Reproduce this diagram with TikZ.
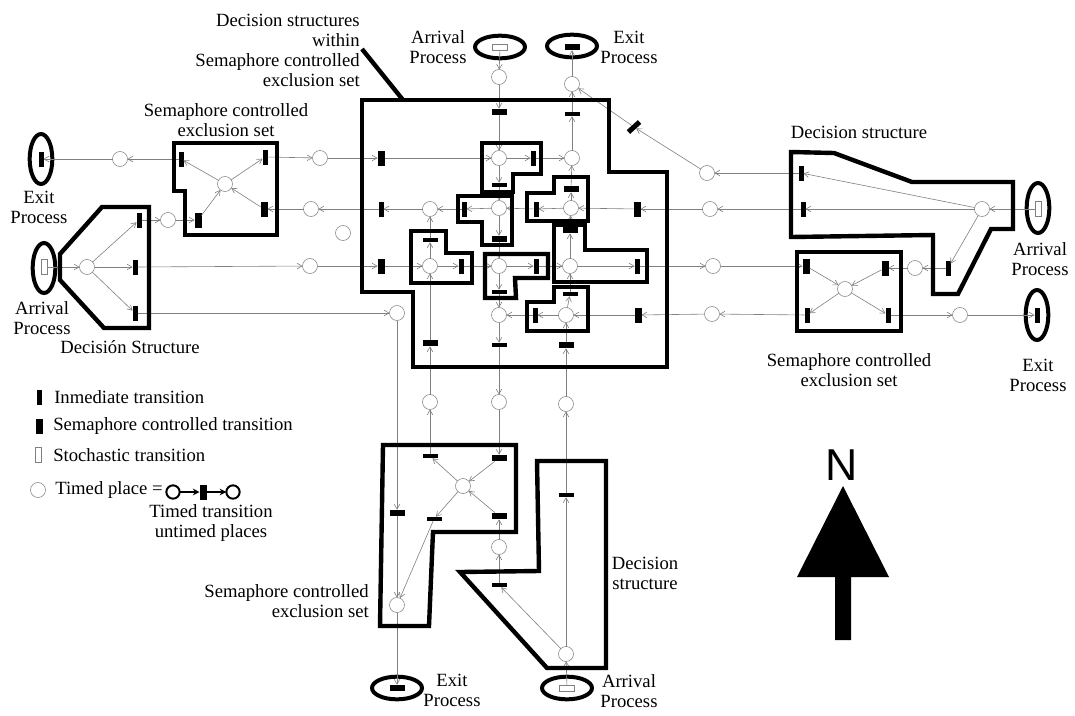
\documentclass[tikz,border=0pt]{standalone}
\usepackage{fontspec}
\setmainfont{Liberation Serif}
\newfontfamily\northfont{Liberation Sans}
\usetikzlibrary{arrows.meta,shapes.geometric}
\definecolor{connc}{gray}{0.5}
\tikzset{
  px/.style={x=0.75pt,y=-0.75pt},
  place/.style={circle,draw=connc,line width=0.4pt,fill=white,minimum size=11.25pt,inner sep=0pt,outer sep=0pt},
  vim/.style={rectangle,fill=black,minimum width=3.75pt,minimum height=11.25pt,inner sep=0pt,outer sep=0pt},
  vsem/.style={rectangle,fill=black,minimum width=5.25pt,minimum height=11.25pt,inner sep=0pt,outer sep=0pt},
  him/.style={rectangle,fill=black,minimum width=11.25pt,minimum height=3.4pt,inner sep=0pt,outer sep=0pt},
  hsem/.style={rectangle,fill=black,minimum width=11.25pt,minimum height=5pt,inner sep=0pt,outer sep=0pt},
  vsto/.style={rectangle,draw=connc,line width=0.4pt,fill=white,minimum width=4.5pt,minimum height=11.25pt,inner sep=0pt,outer sep=0pt},
  hsto/.style={rectangle,draw=connc,line width=0.4pt,fill=white,minimum width=11.25pt,minimum height=4.5pt,inner sep=0pt,outer sep=0pt},
  velli/.style={ellipse,draw=black,line width=3pt,minimum width=17pt,minimum height=37.5pt,inner sep=0pt,outer sep=0pt},
  helli/.style={ellipse,draw=black,line width=3pt,minimum width=37.5pt,minimum height=17pt,inner sep=0pt,outer sep=0pt},
  conn/.style={draw=connc,line width=0.45pt,-{Straight Barb[length=3.6pt,width=4.2pt]}},
  thickbox/.style={draw=black,line width=3.3pt,line join=miter},
  lab/.style={font=\fontsize{14}{15}\selectfont,align=center,inner sep=0pt,text=black},
  labr/.style={font=\fontsize{14}{15}\selectfont,align=right,inner sep=0pt,text=black},
  labl/.style={font=\fontsize{14}{15}\selectfont,anchor=west,inner sep=0pt,text=black},
  lgplace/.style={circle,draw=black,line width=1.5pt,fill=white,minimum size=10pt,inner sep=0pt,outer sep=0pt},
  lgconn/.style={draw=black,line width=1.2pt,-{Stealth[length=5pt,width=5pt]}}
}
\begin{document}
\begin{tikzpicture}[px]
\useasboundingbox (0,0) rectangle (1075,715);
\fill[white] (0,0) rectangle (1075,715);
% central places
\node[place] (c1) at (499,158) {};
\node[place] (c2) at (572,158) {};
\node[place] (c3) at (499,208) {};
\node[place] (c4) at (430,209) {};
\node[place] (c5) at (571,208) {};
\node[place] (c6) at (430,266) {};
\node[place] (c7) at (499,266) {};
\node[place] (c8) at (570,266) {};
\node[place] (c9) at (499,315) {};
\node[place] (c10) at (566,315) {};
\node[place] (c11) at (397,313) {};
\node[place] (pT1) at (499,77) {};
\node[place] (pT2) at (572,84) {};
% central transitions
\node[hsem] (t1) at (499,112) {};
\node[him] (t2) at (572,114) {};
\node[vsem] (t3) at (381,158) {};
\node[vim] (t4) at (533,158) {};
\node[him] (t5) at (499,185) {};
\node[vim] (t6) at (464,209) {};
\node[vim] (t7) at (381,209) {};
\node[hsem] (t8) at (499,239) {};
\node[hsem] (t9) at (571,189) {};
\node[vim] (t10) at (536,209) {};
\node[vsem] (t11) at (637,209) {};
\node[him] (t12) at (430,240) {};
\node[vsem] (t13) at (381,266) {};
\node[vim] (t14) at (461,266) {};
\node[vim] (t15) at (536,266) {};
\node[hsem] (t16) at (570,230) {};
\node[vim] (t17) at (637,266) {};
\node[him] (t18) at (499,292) {};
\node[him] (t19) at (570,294) {};
\node[vim] (t20) at (535,315) {};
\node[vsem] (t21) at (638,315) {};
\node[hsem] (t22) at (430,343) {};
\node[him] (t23) at (499,345) {};
\node[hsem] (t24) at (566,345) {};
\node[vim,rotate=-48] (t25) at (634,127) {};
% left
\node[velli] (eL) at (41,159) {};
\node[vim] (xL) at (41,159) {};
\node[place] (pL1) at (120,159) {};
\node[vim] (tL1) at (181,159) {};
\node[vim] (tL2) at (265,157) {};
\node[vsem] (tL3) at (264,209) {};
\node[vsem] (tL4) at (198,220) {};
\node[place] (pLs) at (225,184) {};
\node[place] (pL2) at (320,158) {};
\node[place] (pL3) at (311,209) {};
\node[place] (pL4) at (343,233) {};
\node[place] (pL5) at (310,266) {};
\node[place] (pL6) at (168,220) {};
\node[vim] (tL5) at (139,220) {};
\node[vim] (tL6) at (135,267) {};
\node[vim] (tL7) at (135,313) {};
\node[place] (pLd) at (87,267) {};
\node[velli] (aL) at (44,268) {};
\node[vsto] (sL) at (44,267) {};
% right
\node[vim] (tR1) at (801,173) {};
\node[vim] (tR2) at (803,209) {};
\node[vim] (tR3) at (948,268) {};
\node[place] (pRd) at (982,209) {};
\node[velli] (aR) at (1038,208) {};
\node[vsto] (sR) at (1038,209) {};
\node[place] (pR1) at (707,173) {};
\node[place] (pR2) at (710,209) {};
\node[place] (pR3) at (713,266) {};
\node[place] (pR4) at (712,314) {};
\node[place] (pR5) at (915,268) {};
\node[place] (pR6) at (960,315) {};
\node[place] (pRs) at (845,289) {};
\node[vsem] (tR4) at (806,266) {};
\node[vsem] (tR5) at (885,268) {};
\node[vim] (tR6) at (807,315) {};
\node[vim] (tR7) at (888,315) {};
\node[velli] (eR) at (1037,315) {};
\node[vim] (xR) at (1037,315) {};
% bottom
\node[place] (pB1) at (430,402) {};
\node[place] (pB2) at (499,402) {};
\node[place] (pB3) at (566,404) {};
\node[him] (tB1) at (430,456) {};
\node[hsem] (tB2) at (499,458) {};
\node[hsem] (tB3) at (397,513) {};
\node[him] (tB4) at (434,519) {};
\node[hsem] (tB5) at (499,516) {};
\node[place] (pBs) at (463,486) {};
\node[place] (pB4) at (397,605) {};
\node[place] (pB5) at (499,547) {};
\node[him] (tB6) at (499,585) {};
\node[him] (tB7) at (566,495) {};
\node[place] (pB6) at (566,654) {};
\node[helli] (eB) at (397,688) {};
\node[hsem] (xB) at (397,688) {};
\node[helli] (aB) at (567,688) {};
\node[hsto] (sB) at (567,688) {};
% top
\node[helli] (aT) at (500,47) {};
\node[hsto] (sT) at (500,47) {};
\node[helli] (eT) at (572,46) {};
\node[hsem] (xT) at (572,47) {};
% connectors
\foreach \a/\b in {sT/pT1,pT1/t1,t1/c1,c1/t4,t4/c2,c2/t2,t2/pT2,pT2/xT,c1/t5,t5/c3,c3/t6,t6/c4,c4/t7,t7/pL3,pL3/tL3,tL3/pLs,
  c3/t8,t8/c7,c7/t18,t18/c9,c9/t23,t23/pB2,pB2/tB2,tB2/pBs,t11/c5,c5/t10,t10/c3,c5/t9,t9/c2,pR2/t11,tR2/pR2,pRd/tR2,pRd/tR1,pRd/tR3,sR/pRd,
  tR1/pR1,pR1/t25,t25/pT2,tR3/pR5,pR5/tR5,tR5/pRs,c8/t17,t17/pR3,pR3/tR4,tR4/pRs,pRs/tR6,tR6/pR4,pR4/t21,t21/c10,c10/t20,t20/c9,pRs/tR7,tR7/pR6,pR6/xR,
  c10/t19,t19/c8,c8/t16,t16/c5,c7/t15,t15/c8,c6/t14,t14/c7,t13/c6,pL5/t13,tL6/pL5,pLd/tL6,pLd/tL5,pLd/tL7,sL/pLd,tL5/pL6,pL6/tL4,tL4/pLs,pLs/tL1,pLs/tL2,
  tL1/pL1,pL1/xL,tL2/pL2,pL2/t3,t3/c1,c6/t12,t12/c4,t22/c6,pB1/t22,tB1/pB1,pBs/tB1,tB5/pBs,pB5/tB5,tB6/pB5,pB6/tB6,pB6/tB7,tB7/pB3,pB3/t24,t24/c10,sB/pB6,
  pBs/tB4,tB4/pB4,tL7/c11,c11/tB3,tB3/pB4,pB4/xB}
  {\path[conn] (\a) -- (\b);}
% thick outlines
\draw[thickbox] (362,100) -- (609,100) -- (609,172) -- (667,172) -- (667,367) -- (413,367) -- (413,292) -- (362,292) -- cycle;
\draw[thickbox] (362,49) -- (403,100);
\draw[thickbox] (482,143) -- (541,143) -- (541,174) -- (513,174) -- (513,192) -- (482,192) -- cycle;
\draw[thickbox] (458,196) -- (512,196) -- (512,245) -- (482,245) -- (482,222) -- (458,222) -- cycle;
\draw[thickbox] (554,177) -- (588,177) -- (588,221) -- (527,221) -- (527,193) -- (554,193) -- cycle;
\draw[thickbox] (411,231) -- (446,231) -- (446,253) -- (472,253) -- (472,283) -- (411,283) -- cycle;
\draw[thickbox] (485,254) -- (548,254) -- (548,278) -- (515,278) -- (516,298) -- (485,298) -- cycle;
\draw[thickbox] (554,225) -- (585,225) -- (585,250) -- (647,250) -- (647,282) -- (554,282) -- cycle;
\draw[thickbox] (554,287) -- (588,287) -- (588,331) -- (527,331) -- (527,302) -- (554,302) -- cycle;
\draw[thickbox] (174,143) -- (277,143) -- (277,235) -- (185,235) -- (185,191) -- (174,191) -- cycle;
\draw[thickbox] (102,207) -- (149,207) -- (149,328) -- (104,328) -- (60,280) -- (60,254) -- cycle;
\draw[thickbox] (791,152) -- (834,153) -- (912,182) -- (1013,182) -- (1013,229) -- (991,229) -- (958,294) -- (933,294) -- (933,235) -- (791,237) -- cycle;
\draw[thickbox] (797,252) -- (901,252) -- (901,331) -- (797,331) -- cycle;
\draw[thickbox] (383,445) -- (516,445) -- (516,532) -- (433,532) -- (429,626) -- (380,626) -- cycle;
\draw[thickbox] (537,461) -- (606,461) -- (606,668) -- (547,668) -- (460,572) -- (539,571) -- cycle;
% labels
\node[labr,anchor=east] (l1) at (360,50) {Decision structures\\within\\Semaphore controlled\\exclusion set};
\node[lab] (l2) at (438,47) {Arrival\\Process};
\node[lab] (l3) at (629,47) {Exit\\Process};
\node[lab] (l4) at (226,120) {Semaphore controlled\\exclusion set};
\node[lab] (l5) at (39,207) {Exit\\Process};
\node[lab] (l6) at (42,318) {Arrival\\Process};
\node[lab] (l7) at (130,347) {Decisión Structure};
\node[lab] (l8) at (859,132) {Decision structure};
\node[lab] (l9) at (1040,259) {Arrival\\Process};
\node[lab] (l10) at (849,370) {Semaphore controlled\\exclusion set};
\node[lab] (l11) at (1038,375) {Exit\\Process};
\node[labr,anchor=east] (l12) at (369,601) {Semaphore controlled\\exclusion set};
\node[lab] (l13) at (645,573) {Decision\\structure};
\node[lab] (l14) at (452,690) {Exit\\Process};
\node[lab] (l15) at (629,691) {Arrival\\Process};
% legend
\node[vim] (lgI) at (39,397) {};
\node[labl] (lgIt) at (54,397) {Inmediate transition};
\node[vsem] (lgS) at (39,426) {};
\node[labl] (lgSt) at (53,426) {Semaphore controlled transition};
\node[vsto] (lgR) at (38,455) {};
\node[labl] (lgRt) at (53,455) {Stochastic transition};
\node[place] (lgP) at (38,490) {};
\node[labl] (lgPt) at (55,490) {Timed place =};
\node[lgplace] (lgA) at (173,492) {};
\node[vsem] (lgT) at (203,492) {};
\node[lgplace] (lgB) at (233,492) {};
\path[lgconn] (lgA) -- (lgT);
\path[lgconn] (lgT) -- (lgB);
\node[lab] (lgTt) at (211,523) {Timed transition\\untimed places};
% north arrow
\fill[black] (843,486) -- (889,577) -- (851,577) -- (851,640) -- (835,640) -- (835,577) -- (797,577) -- cycle;
\node[font=\fontsize{33.5}{36}\selectfont\northfont,inner sep=0pt] (north) at (842,465) {N};
\end{tikzpicture}
\end{document}
